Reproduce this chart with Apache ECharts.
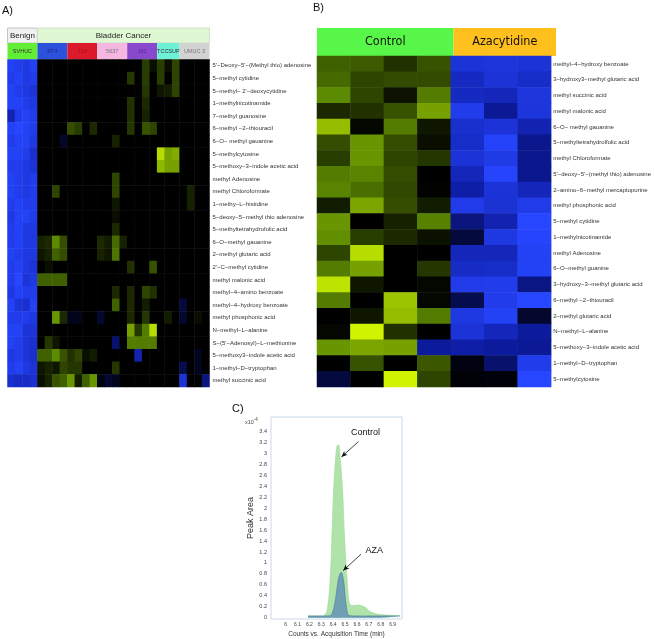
<!DOCTYPE html>
<html><head><meta charset="utf-8">
<script src="https://cdn.jsdelivr.net/npm/echarts@6/dist/echarts.min.js"></script>
<style>html,body{margin:0;padding:0;background:#fff}#c{width:654px;height:639px}</style>
</head><body><div id="c"></div>
<script>
// ---------- Panel A data ----------
const metabolitesA = [
  "5'\u2212Deoxy\u22125'\u2212(Methyl thio) adenosine","5\u2212methyl cytidine","5\u2212methyl\u2212 2'\u2212deoxycytidine",
  "1\u2212methylnicotinamide","7\u2212methyl guanosine","6\u2212methyl \u22122\u2212thiouracil","6\u2212O\u2212 methyl gauanine",
  "5\u2212methylcytosine","5\u2212methoxy\u22123\u2212indole acetic acid","methyl Adenosine","methyl Chloroformate",
  "1\u2212methy\u2212L\u2212histidine","5\u2212deoxy\u22125\u2212methyl thio adenosine","5\u2212methyltetrahydrofolic acid",
  "6\u2212O\u2212methyl gauanine","2\u2212methyl glutaric acid","2'\u2212C\u2212methyl cytidine","methyl malonic acid",
  "methyl\u22124\u2212amino benzoate","methyl\u22124\u2212hydroxy benzoate","methyl phosphonic acid","N\u2212methyl\u2212L\u2212alanine",
  "S\u2212(5'\u2212Adenosyl)\u2212L\u2212methionine","5\u2212methoxy3\u2212indole acetic acid","1\u2212methyl\u2212D\u2212tryptophan","methyl succinic acid"
];
const cellLines = ["SVHUC","RT4","T24","5637","J82","TCCSUP","UMUC 3"];
const cellLineCols = [4,4,4,4,4,3,4];
const cellLineFill = ["#62ee34","#2c52dc","#dc1a2c","#f6b6e2","#8a48cc","#6cf0d6","#d2d2d2"];
const cellLineText = ["#333","#1a2a8a","#a01020","#777","#5a2a9a","#333","#777"];
// columns grouped: SVHUC(4) RT4(4) T24(4) 5637(4) J82(4) TCCSUP(3) UMUC3(4)
const valuesA = [
  [-0.95,-0.9,-0.85,-0.95, 0,0,0,0, 0,0,0,0, 0,0,0,0, 0,0,0.22,0.05, 0.22,0.05,0.25, 0,0,0,0],
  [-0.9,-0.95,-0.85,-0.9, 0,0,0,0, 0,0,0,0, 0,0,0,0, 0.2,0,0.22,0, 0.22,0,0.25, 0,0,0,0],
  [-0.95,-0.9,-0.85,-0.8, 0,0,0,0, 0,0,0,0, 0,0,0,0, 0,0,0.2,0, 0.08,0.1,0.25, 0,0,0,0],
  [-0.95,-0.95,-0.9,-0.85, 0,0,0,0, 0,0,0,0, 0,0,0,0, 0.18,0,0.15,0, 0,0,0, 0,0,0,0],
  [-0.6,-0.9,-0.95,-0.9, 0,0,0,0, 0,0,0,0, 0,0,0,0, 0.18,0,0.12,0, 0,0,0, 0,0,0,0],
  [-0.95,-1,-0.95,-0.9, 0,0,0,0, 0.28,0.22,0,0.15, 0,0,0,0, 0.2,0,0.3,0.25, 0,0,0, 0,0,0,0],
  [-0.9,-0.95,-0.95,-0.85, 0,0,0,-0.12, 0,0,0,0, 0,0,0.12,0, 0,0,0,0, 0,0,0, 0,0,0,0],
  [-0.95,-0.95,-0.9,-0.75, 0,0,0,0, 0,0,0,0, 0,0,0,0, 0,0,0,0, 0.85,0.6,0.65, 0,0,0,0],
  [-0.9,-0.9,-0.85,-0.8, 0,0,0,0, 0,0,0,0, 0,0,0,0, 0,0,0,0, 0.7,0.6,0.6, 0,0,0,0],
  [-0.95,-0.9,-0.85,-0.9, 0,0,0,0, 0,0,0,0, 0,0,0.25,0, 0,0,0,0, 0,0,0, 0,0,0,0],
  [-0.95,-0.9,-0.85,-0.9, 0,0,0.25,0, 0,0,0,0, 0,0,0.25,0, 0,0,0,0, 0,0,0, 0,0.12,0,0],
  [-0.9,-0.95,-0.9,-0.9, 0,0,0,0, 0,0,0,0, 0,0,0.08,0, 0,0,0,0, 0,0,0, 0,0.12,0,0],
  [-0.85,-0.95,-0.95,-0.9, 0,0,0,0, 0,0,0,0, 0,0,0.05,0, 0,0,0,0, 0,0,0, 0,0,0,0],
  [-0.9,-0.95,-0.85,-0.85, 0,0,0,0, 0,0,0,0, 0,0,0.15,0, 0,0,0,0, 0,0,0, 0,0,0,0],
  [-0.9,-0.95,-0.85,-0.85, 0.12,0.15,0.5,0.28, 0,0,0,0, 0.15,0.1,0.38,0.12, 0,0,0,0, 0,0,0, 0,0,0,0],
  [-0.95,-0.9,-0.85,-0.85, 0.08,0.12,0.35,0.28, 0,0,0,0, 0.12,0.08,0.42,0, 0,0,0,0, 0,0,0, 0,0,0,0],
  [-0.9,-0.95,-0.85,-0.8, 0,0.05,0,0, 0,0,0,0, 0,0,0,0, 0.18,0,0,0.3, 0,0,0, 0,0,0,0],
  [-0.9,-1,-0.8,-0.85, 0.35,0.35,0.35,0.35, 0,0,0,0, 0,0,0,0, 0,0,0,0, 0,0,0, 0,0,0,0],
  [-0.85,-0.95,-0.9,-0.9, 0,0,0,0, 0,0,0,0, 0,0,0.15,0, 0.15,0,0.25,0.18, 0,0,0, 0,0,0,0],
  [-0.95,-0.8,-0.75,-0.95, 0,0,0,0, 0,0,0,0, 0,0,0.35,0, 0.15,0,0.1,0, 0,0,0, -0.2,0,0,0],
  [-0.9,-0.9,-0.9,-0.85, 0,0,0.55,0.15, -0.08,-0.08,0,0, -0.15,0,0,0, 0.15,0,0.2,0, 0,0.1,0, -0.15,0,0.05,0],
  [-0.95,-0.95,-0.8,-0.8, 0,0,0,0, 0,0,0,0, 0,0,0,0, 0.6,0.2,0.45,0.85, 0,0,0, 0,0,0,0],
  [-0.95,-0.9,-0.8,-0.75, 0,0.2,0.08,0, 0,0,0,0, 0,0,-0.35,0, 0.45,0.45,0.45,0.45, 0,0,0, 0,0,0,0],
  [-0.85,-0.9,-0.8,-0.75, 0.35,0.35,0.5,0.3, 0.18,0.25,0.05,0.1, 0,0,0,0, 0,-0.6,0,0, 0,0,0, 0,0,-0.1,0],
  [-0.9,-0.95,-0.85,-0.8, 0.08,0.12,0.08,0.25, 0.2,0.2,0,0, 0,0,0.2,0, 0,0,0,0, 0,0,0, -0.25,0,-0.1,0],
  [-0.75,-0.7,-0.7,-0.75, 0.05,0.12,0.3,0.35, 0.55,0.1,0.35,0.55, -0.05,-0.15,-0.1,0, 0,0,0,0, 0,0,0, -0.8,0,0,-0.4]
];

// ---------- Panel B data ----------
const metabolitesB = [
  "methyl\u22124\u2212hydroxy benzoate","3\u2212hydroxy3\u2212methyl glutaric acid","methyl succinic acid","methyl malonic acid",
  "6\u2212O\u2212 methyl gauanine","5\u2212methyltetrahydrolfolic acid","methyl Chloroformate",
  "5'\u2212deoxy\u22125'\u2212(methyl thio) adenosine","2\u2212amino\u22126\u2212methyl mercaptopurine","methyl phosphonic acid",
  "5\u2212methyl cytidine","1\u2212methylnicotinamide","methyl Adenosine","6\u2212O\u2212methyl guanine",
  "3\u2212hydroxy\u22123\u2212methyl glutaric acid","6\u2212methyl \u22122\u2212thiouracil","2\u2212methyl glutaric acid",
  "N\u2212methyl\u2212L\u2212alanine","5\u2212methoxy\u22123\u2212indole acetic acid","1\u2212methyl\u2212D\u2212tryptophan","5\u2212methylcytosine"
];
const groupsB = ["Control","Azacytidine"];
const groupColsB = [4,3];
const groupFillB = ["#58f648","#ffc01e"];
// columns: Control(4) Azacytidine(3)
const valuesB = [
  [0.35,0.33,0.18,0.3, -0.8,-0.82,-0.8],
  [0.38,0.25,0.27,0.27, -0.68,-0.8,-0.72],
  [0.5,0.25,0.07,0.45, -0.68,-0.65,-0.83],
  [0.15,0.18,0.3,0.6, -0.9,-0.48,-0.82],
  [0.72,0.02,0.45,0.08, -0.75,-0.8,-0.6],
  [0.28,0.55,0.28,0.05, -0.72,-0.97,-0.45],
  [0.22,0.55,0.25,0.2, -0.8,-0.87,-0.45],
  [0.45,0.48,0.28,0, -0.65,-0.98,-0.45],
  [0.48,0.4,0.26,0.01, -0.55,-0.8,-0.65],
  [0.1,0.62,0.28,0.1, -0.88,-0.78,-0.88],
  [0.55,0,0.12,0.47, -0.4,-0.6,-1],
  [0.52,0.22,0.15,0.06, -0.2,-0.85,-0.98],
  [0.25,0.85,0,0, -0.65,-0.65,-0.95],
  [0.45,0.6,0,0.2, -0.7,-0.72,-0.95],
  [0.88,0.08,0,0.02, -0.88,-0.9,-0.42],
  [0.45,0,0.75,0.02, -0.25,-0.9,-1],
  [0,0.08,0.72,0.45, -0.85,-0.95,-0.15],
  [0.02,0.95,0.18,0, -0.8,-0.65,-0.5],
  [0.55,0.62,0.6,-0.5, -0.55,-0.5,-0.48],
  [0,0.3,0,0.32, -0.05,-0.35,-0.9],
  [-0.2,0,0.95,0.25, -0.02,-0.03,-1]
];

// ---------- Panel C data (x10^-4) ----------
const ctrlTime = [6.19,6.25,6.30,6.319,6.348,6.370,6.384,6.398,6.415,6.432,6.446,6.46,6.479,6.496,6.516,6.535,6.558,6.614,6.67,6.712,6.768,6.852,6.964];
const ctrlArea = [0.03,0.03,0.032,0.036,0.126,0.55,1.15,2.05,2.77,3.14,3.16,2.89,2.35,1.45,0.73,0.28,0.22,0.23,0.19,0.11,0.065,0.047,0.036];
const azaTime = [6.188,6.30,6.376,6.404,6.426,6.446,6.468,6.488,6.502,6.516,6.532,6.60,6.80,6.964];
const azaArea = [0.03,0.03,0.036,0.16,0.43,0.73,0.83,0.67,0.37,0.13,0.04,0.03,0.03,0.03];
const xTicksC = [6,6.1,6.2,6.3,6.4,6.5,6.6,6.7,6.8,6.9];
const yTicksC = [0,0.2,0.4,0.6,0.8,1,1.2,1.4,1.6,1.8,2,2.2,2.4,2.6,2.8,3,3.2,3.4];
const annotations = [
  {text:"Control", at:[6.672,3.39], from:[6.613,3.22], to:[6.47,2.94]},
  {text:"AZA", at:[6.745,1.22], from:[6.634,1.16], to:[6.484,0.86]}
];

// ---------- layout ----------
const GA = {left:7.5, top:59.5, width:202, height:327.5};
const GB = {left:317, top:56, width:239, height:331};
const GC = {left:271, top:417, width:131, height:205};
const FONT = "'Liberation Sans', Arial, sans-serif";

function heat(values){
  const d=[]; values.forEach((row,r)=>row.forEach((v,c)=>d.push([c,r,v]))); return d;
}
const nA = cellLineCols.reduce((a,b)=>a+b,0);
const nB = groupColsB.reduce((a,b)=>a+b,0);

const graphics = [];
function txt(x,y,t,size,fill,align,extra){
  graphics.push({type:'text',x:x,y:y,silent:true,style:Object.assign({text:t,fontSize:size,fontFamily:FONT,fill:fill||'#111',textAlign:align||'left',textVerticalAlign:'middle'},extra||{})});
}
function rect(x,y,w,h,fill,stroke){
  graphics.push({type:'rect',silent:true,shape:{x:x,y:y,width:w,height:h},style:{fill:fill,stroke:stroke||null,lineWidth:stroke?0.8:0}});
}
// Panel A header
const cwA = GA.width/nA;
const benignW = cellLineCols[0]*cwA;
rect(GA.left, 28, benignW, 15, '#f1f1f1', '#b8b8b8');
rect(GA.left+benignW, 28, GA.width-benignW, 15, '#e0f7d4', '#c8dcc0');
txt(GA.left+benignW/2, 36, 'Benign', 8, '#222', 'center');
txt(GA.left+benignW+(GA.width-benignW)/2, 35.5, 'Bladder Cancer', 8, '#222', 'center');
let col=0;
cellLines.forEach((name,i)=>{
  const x=GA.left+col*cwA, w=cellLineCols[i]*cwA;
  rect(x, 43, w, 16.5, cellLineFill[i]);
  txt(x+w/2, 51.5, name, 5.5, cellLineText[i], 'center');
  col+=cellLineCols[i];
});
// Panel B header
const cwB = GB.width/nB;
col=0;
groupsB.forEach((g,i)=>{
  const x=GB.left+col*cwB, w=groupColsB[i]*cwB;
  rect(x, 28, w, 28, groupFillB[i]);
  txt(x+w/2, 42, g, 12.5, '#111', 'center', {fontFamily:"'Liberation Sans Narrow','DejaVu Sans Condensed',Arial,sans-serif"});
  col+=groupColsB[i];
});
// Panel letters
txt(2, 11, 'A)', 11, '#111');
txt(313, 8, 'B)', 11, '#111');
txt(232, 409, 'C)', 11, '#111');
// x10^-4
graphics.push({type:'text',x:245,y:422,silent:true,style:{text:'{a|x10}{b|-4}',rich:{a:{fontSize:5.5,fill:'#444',fontFamily:FONT},b:{fontSize:4.5,fill:'#444',fontFamily:FONT,verticalAlign:'bottom',padding:[0,0,4,0]}},textVerticalAlign:'middle'}});

const fmt = v => String(+(+v).toFixed(1));

const option = {
  animation:false,
  backgroundColor:'#fff',
  textStyle:{fontFamily:FONT},
  grid:[
    Object.assign({containLabel:false},GA),
    Object.assign({containLabel:false},GB),
    Object.assign({containLabel:false, show:true, borderColor:'#c9d8ea', borderWidth:1, backgroundColor:'#fff'},GC)
  ],
  xAxis:[
    {gridIndex:0,type:'category',data:[...Array(nA).keys()],show:false},
    {gridIndex:1,type:'category',data:[...Array(nB).keys()],show:false},
    {gridIndex:2,type:'value',min:5.877,max:6.979,splitLine:{show:false},axisLine:{show:false},
     axisTick:{show:false,customValues:xTicksC},
     axisLabel:{customValues:xTicksC,formatter:fmt,fontSize:5,color:'#444',margin:3},
     name:'Counts vs. Acquisition Time (min)',nameLocation:'middle',nameGap:12,
     nameTextStyle:{fontSize:6.5,color:'#333'}}
  ],
  yAxis:[
    {gridIndex:0,type:'category',data:metabolitesA,inverse:true,position:'right',
     axisLine:{show:false},axisTick:{show:false},
     axisLabel:{fontSize:6,color:'#333',margin:3}},
    {gridIndex:1,type:'category',data:metabolitesB,inverse:true,position:'right',
     axisLine:{show:false},axisTick:{show:false},
     axisLabel:{fontSize:6,color:'#333',margin:2}},
    {gridIndex:2,type:'value',min:-0.025,max:3.67,splitLine:{show:false},axisLine:{show:false},
     axisTick:{show:false,customValues:yTicksC},
     axisLabel:{customValues:yTicksC,formatter:fmt,fontSize:5.5,color:'#444',margin:4},
     name:'Peak Area',nameLocation:'middle',nameGap:15,nameRotate:90,
     nameTextStyle:{fontSize:9,color:'#333'}}
  ],
  visualMap:{show:false,min:-1,max:1,seriesIndex:[0,1],calculable:false,
    inRange:{color:['#2646ff','#0c1a9c','#000000','#5c8a00','#dcff00']}},
  series:[
    {type:'heatmap',xAxisIndex:0,yAxisIndex:0,data:heat(valuesA),itemStyle:{borderWidth:0}},
    {type:'heatmap',xAxisIndex:1,yAxisIndex:1,data:heat(valuesB),itemStyle:{borderWidth:0}},
    {type:'line',xAxisIndex:2,yAxisIndex:2,data:ctrlTime.map((t,i)=>[t,ctrlArea[i]]),
     showSymbol:false,smooth:0.3,lineStyle:{width:0.6,color:'#9fd898'},
     areaStyle:{color:'#abe2a4',opacity:0.95},z:2},
    {type:'line',xAxisIndex:2,yAxisIndex:2,data:azaTime.map((t,i)=>[t,azaArea[i]]),
     showSymbol:false,smooth:0.3,lineStyle:{width:0.7,color:'#4f7fa8'},
     areaStyle:{color:'#6593b6',opacity:0.85},z:3,
     markLine:{silent:true,symbol:['none','arrow'],symbolSize:[4,6],
       lineStyle:{color:'#111',width:0.8,type:'solid'},label:{show:false},
       data:annotations.map(a=>[{coord:a.from},{coord:a.to}])},
     markPoint:{silent:true,symbol:'circle',symbolSize:0,
       label:{show:true,position:'inside',color:'#111',fontSize:9,fontFamily:FONT,formatter:p=>p.name},
       data:annotations.map(a=>({name:a.text,coord:a.at}))}}
  ],
  graphic:graphics
};
const chart = echarts.init(document.getElementById('c'),null,{renderer:'canvas'});
chart.setOption(option);
</script>
</body></html>
